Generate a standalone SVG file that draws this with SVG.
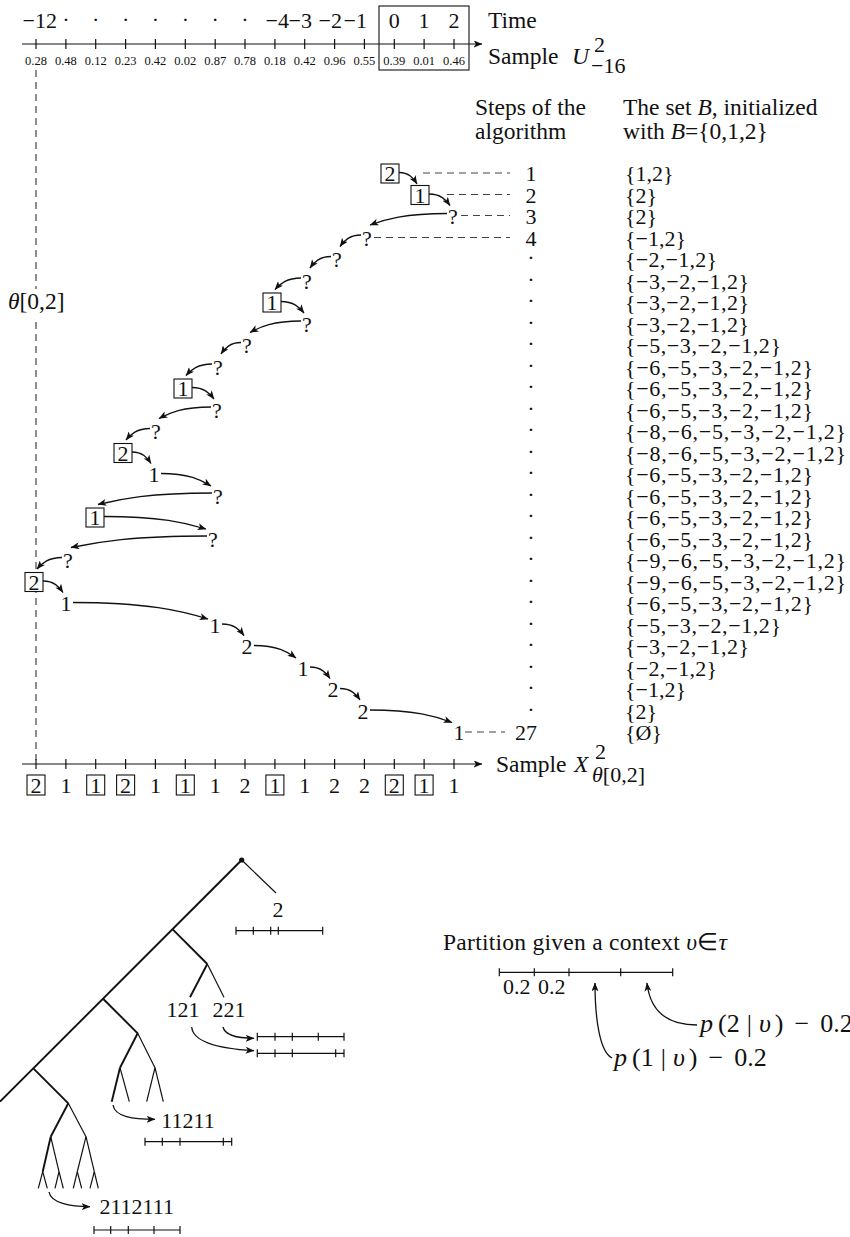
<svg xmlns="http://www.w3.org/2000/svg" width="850" height="1237" viewBox="0 0 850 1237">
<style>
.t{font-family:"Liberation Serif","Times New Roman",serif;font-size:22px;fill:#111}
.p{font-size:23.5px}
.q{font-size:26px}
.sm{font-size:12.5px}
.i{font-style:italic}
.ln{stroke:#111;stroke-width:1.2;fill:none}
.tk{stroke:#111;stroke-width:1.2}
.th{stroke:#111;stroke-width:1.9;fill:none}
.dash{stroke:#444;stroke-width:1.2;stroke-dasharray:7 5;fill:none}
.arr{stroke:#111;stroke-width:1.3;fill:none;marker-end:url(#ah)}
.box{fill:#fff;stroke:#111;stroke-width:1.1}
</style>
<defs>
<marker id="ah" viewBox="0 0 10 8" refX="9.5" refY="4" markerWidth="9" markerHeight="7" markerUnits="userSpaceOnUse" orient="auto"><path d="M0,0 L10,4 L0,8 L2.5,4z" fill="#111"/></marker>
</defs>
<rect width="850" height="1237" fill="#fff"/>

<!-- top time axis -->
<g id="time-axis">
<line class="ln" x1="22" y1="44" x2="482" y2="44" marker-end="url(#ah)"/>
<g class="tk">
<line x1="36" y1="39" x2="36" y2="49"/><line x1="65.9" y1="39" x2="65.9" y2="49"/><line x1="95.7" y1="39" x2="95.7" y2="49"/><line x1="125.6" y1="39" x2="125.6" y2="49"/><line x1="155.4" y1="39" x2="155.4" y2="49"/><line x1="185.3" y1="39" x2="185.3" y2="49"/><line x1="215.2" y1="39" x2="215.2" y2="49"/><line x1="245" y1="39" x2="245" y2="49"/><line x1="274.9" y1="39" x2="274.9" y2="49"/><line x1="304.7" y1="39" x2="304.7" y2="49"/><line x1="334.6" y1="39" x2="334.6" y2="49"/><line x1="364.4" y1="39" x2="364.4" y2="49"/><line x1="394.3" y1="39" x2="394.3" y2="49"/><line x1="424.1" y1="39" x2="424.1" y2="49"/><line x1="454" y1="39" x2="454" y2="49"/>
</g>
<g class="t" text-anchor="end">
<text x="57" y="28">−12</text><text x="289" y="28">−4</text><text x="312" y="28">−3</text><text x="342" y="28">−2</text><text x="367" y="28">−1</text>
</g>
<g class="t" text-anchor="middle">
<text x="65.9" y="27">·</text><text x="95.7" y="27">·</text><text x="125.6" y="27">·</text><text x="155.4" y="27">·</text><text x="185.3" y="27">·</text><text x="215.2" y="27">·</text><text x="245" y="27">·</text>
<text x="394.3" y="28">0</text><text x="424.1" y="28">1</text><text x="454" y="28">2</text>
</g>
<g class="t sm" text-anchor="middle">
<text x="36" y="65">0.28</text><text x="65.9" y="65">0.48</text><text x="95.7" y="65">0.12</text><text x="125.6" y="65">0.23</text><text x="155.4" y="65">0.42</text><text x="185.3" y="65">0.02</text><text x="215.2" y="65">0.87</text><text x="245" y="65">0.78</text><text x="274.9" y="65">0.18</text><text x="304.7" y="65">0.42</text><text x="334.6" y="65">0.96</text><text x="364.4" y="65">0.55</text><text x="394.3" y="65">0.39</text><text x="424.1" y="65">0.01</text><text x="454" y="65">0.46</text>
</g>
<rect x="379" y="6" width="90" height="64" fill="none" stroke="#111" stroke-width="1.1"/>
<text class="t p" x="488" y="28">Time</text>
<text class="t p" x="488" y="64">Sample <tspan class="i" x="572">U</tspan></text>
<text class="t" x="594" y="52" font-size="15">2</text>
<text class="t" x="591" y="73" font-size="15">−16</text>
</g>

<!-- dashed vertical theta line -->
<g id="theta">
<line class="dash" x1="36" y1="70" x2="36" y2="760"/>
<rect x="6" y="289" width="62" height="28" fill="#fff"/>
<text class="t p" x="8" y="309"><tspan class="i">θ</tspan>[0,2]</text>
</g>

<!-- headers -->
<g id="headers" class="t p">
<text x="475" y="115">Steps of the</text>
<text x="475" y="139">algorithm</text>
<text x="623" y="115">The set <tspan class="i">B</tspan>, initialized</text>
<text x="623" y="139">with <tspan class="i">B</tspan>={0,1,2}</text>
</g>

<!-- step numbers -->
<g id="steps" class="t" text-anchor="middle">
<text x="531" y="181">1</text><text x="531" y="202.5">2</text><text x="531" y="224">3</text><text x="531" y="245.5">4</text>
<text x="531" y="265">·</text><text x="531" y="286.5">·</text><text x="531" y="308">·</text><text x="531" y="329.5">·</text><text x="531" y="351">·</text><text x="531" y="372.5">·</text><text x="531" y="394">·</text><text x="531" y="415.5">·</text><text x="531" y="437">·</text><text x="531" y="458.5">·</text><text x="531" y="480">·</text><text x="531" y="501.5">·</text><text x="531" y="523">·</text><text x="531" y="544.5">·</text><text x="531" y="566">·</text><text x="531" y="587.5">·</text><text x="531" y="609">·</text><text x="531" y="630.5">·</text><text x="531" y="652">·</text><text x="531" y="673.5">·</text><text x="531" y="695">·</text><text x="531" y="716.5">·</text>
<text x="537" y="740" text-anchor="end">27</text>
</g>

<!-- sets -->
<g id="sets" class="t">
<text x="625" y="181">{1,2}</text>
<text x="625" y="202.5">{2}</text>
<text x="625" y="224">{2}</text>
<text x="625" y="245.5">{−1,2}</text>
<text x="625" y="267" textLength="92" lengthAdjust="spacing">{−2,−1,2}</text>
<text x="625" y="288.5" textLength="124" lengthAdjust="spacing">{−3,−2,−1,2}</text>
<text x="625" y="310" textLength="124" lengthAdjust="spacing">{−3,−2,−1,2}</text>
<text x="625" y="331.5" textLength="124" lengthAdjust="spacing">{−3,−2,−1,2}</text>
<text x="625" y="353" textLength="156" lengthAdjust="spacing">{−5,−3,−2,−1,2}</text>
<text x="625" y="374.5" textLength="188" lengthAdjust="spacing">{−6,−5,−3,−2,−1,2}</text>
<text x="625" y="396" textLength="188" lengthAdjust="spacing">{−6,−5,−3,−2,−1,2}</text>
<text x="625" y="417.5" textLength="188" lengthAdjust="spacing">{−6,−5,−3,−2,−1,2}</text>
<text x="625" y="439" textLength="221" lengthAdjust="spacing">{−8,−6,−5,−3,−2,−1,2}</text>
<text x="625" y="460.5" textLength="221" lengthAdjust="spacing">{−8,−6,−5,−3,−2,−1,2}</text>
<text x="625" y="482" textLength="188" lengthAdjust="spacing">{−6,−5,−3,−2,−1,2}</text>
<text x="625" y="503.5" textLength="188" lengthAdjust="spacing">{−6,−5,−3,−2,−1,2}</text>
<text x="625" y="525" textLength="188" lengthAdjust="spacing">{−6,−5,−3,−2,−1,2}</text>
<text x="625" y="546.5" textLength="188" lengthAdjust="spacing">{−6,−5,−3,−2,−1,2}</text>
<text x="625" y="568" textLength="221" lengthAdjust="spacing">{−9,−6,−5,−3,−2,−1,2}</text>
<text x="625" y="589.5" textLength="221" lengthAdjust="spacing">{−9,−6,−5,−3,−2,−1,2}</text>
<text x="625" y="611" textLength="188" lengthAdjust="spacing">{−6,−5,−3,−2,−1,2}</text>
<text x="625" y="632.5" textLength="156" lengthAdjust="spacing">{−5,−3,−2,−1,2}</text>
<text x="625" y="654" textLength="124" lengthAdjust="spacing">{−3,−2,−1,2}</text>
<text x="625" y="675.5" textLength="92" lengthAdjust="spacing">{−2,−1,2}</text>
<text x="625" y="697">{−1,2}</text>
<text x="625" y="718.5">{2}</text>
<text x="625" y="740">{Ø}</text>
</g>

<!-- connectors -->
<g id="connectors">
<line class="dash" x1="423" y1="173" x2="510" y2="173"/>
<line class="dash" x1="447" y1="194.5" x2="510" y2="194.5"/>
<line class="dash" x1="461" y1="215.5" x2="510" y2="215.5"/>
<line class="dash" x1="374" y1="237.5" x2="510" y2="237.5"/>
<line class="dash" x1="465" y1="732" x2="505" y2="732"/>
<path class="arr" d="M399,172.5 C408.9,172.5 413.4,178.25 417,184"/>
<path class="arr" d="M429,194 C440.6,194 445.8,199.75 450,205.5"/>
<path class="arr" d="M447,213.5 C404.65,213.5 385.4,219.25 370,225"/>
<path class="arr" d="M361,235 C349.45,235 344.2,240.75 340,246.5"/>
<path class="arr" d="M331,256.5 C319.45,256.5 314.2,262.25 310,268"/>
<path class="arr" d="M301,278 C286.7,278 280.2,283.75 275,289.5"/>
<path class="arr" d="M281,301.5 C293.65,301.5 299.4,307.25 304,313"/>
<path class="arr" d="M301,321 C272.95,321 260.2,326.75 250,332.5"/>
<path class="arr" d="M241,342.5 C230,342.5 225,348.25 221,354"/>
<path class="arr" d="M212,364 C197.7,364 191.2,369.75 186,375.5"/>
<path class="arr" d="M192,387.5 C204.1,387.5 209.6,393.25 214,399"/>
<path class="arr" d="M211,407 C182.4,407 169.4,412.75 159,418.5"/>
<path class="arr" d="M150,428.5 C136.8,428.5 130.8,434.25 126,440"/>
<path class="arr" d="M132,452 C142.45,452 147.2,457.75 151,463.5"/>
<path class="arr" d="M161,473.5 C188.5,473.5 201,479.75 211,486"/>
<path class="arr" d="M212,493 C149.3,493 120.8,498.75 98,504.5"/>
<path class="arr" d="M104,516.5 C160.1,516.5 185.6,522.75 206,529"/>
<path class="arr" d="M207,536 C132.2,536 98.2,541.75 71,547.5"/>
<path class="arr" d="M62,557.5 C48.25,557.5 42,563.25 37,569"/>
<path class="arr" d="M43,581 C54,581 59,586.75 63,592.5"/>
<path class="arr" d="M73,602.5 C147.25,602.5 181,610.75 208,619"/>
<path class="arr" d="M222,624 C234.1,624 239.6,629.75 244,635.5"/>
<path class="arr" d="M254,645.5 C277.1,645.5 287.6,651.75 296,658"/>
<path class="arr" d="M310,667 C321,667 326,672.75 330,678.5"/>
<path class="arr" d="M340,688.5 C351,688.5 356,694.25 360,700"/>
<path class="arr" d="M370,710 C415.1,710 435.6,716.25 452,722.5"/>
</g>

<!-- algorithm nodes -->
<g class="t" text-anchor="middle">
<g id="n1"><rect class="box" x="381" y="164" width="18" height="19"/><text x="390" y="181">2</text></g>
<g id="n2"><rect class="box" x="411" y="185.5" width="18" height="19"/><text x="420" y="202.5">1</text></g>
<g id="n3"><text x="453" y="224">?</text></g>
<g id="n4"><text x="367" y="245.5">?</text></g>
<g id="n5"><text x="337" y="267">?</text></g>
<g id="n6"><text x="307" y="288.5">?</text></g>
<g id="n7"><rect class="box" x="263" y="293" width="18" height="19"/><text x="272" y="310">1</text></g>
<g id="n8"><text x="307" y="331.5">?</text></g>
<g id="n9"><text x="247" y="353">?</text></g>
<g id="n10"><text x="218" y="374.5">?</text></g>
<g id="n11"><rect class="box" x="174" y="379" width="18" height="19"/><text x="183" y="396">1</text></g>
<g id="n12"><text x="217" y="417.5">?</text></g>
<g id="n13"><text x="156" y="439">?</text></g>
<g id="n14"><rect class="box" x="114" y="443.5" width="18" height="19"/><text x="123" y="460.5">2</text></g>
<g id="n15"><text x="154" y="482">1</text></g>
<g id="n16"><text x="218" y="503.5">?</text></g>
<g id="n17"><rect class="box" x="86" y="508" width="18" height="19"/><text x="95" y="525">1</text></g>
<g id="n18"><text x="213" y="546.5">?</text></g>
<g id="n19"><text x="68" y="568">?</text></g>
<g id="n20"><rect class="box" x="25" y="572.5" width="18" height="19"/><text x="34" y="589.5">2</text></g>
<g id="n21"><text x="66" y="611">1</text></g>
<g id="n22"><text x="215" y="632.5">1</text></g>
<g id="n23"><text x="247" y="654">2</text></g>
<g id="n24"><text x="303" y="675.5">1</text></g>
<g id="n25"><text x="333" y="697">2</text></g>
<g id="n26"><text x="363" y="718.5">2</text></g>
<g id="n27"><text x="459" y="740">1</text></g>
</g>

<!-- bottom sample axis -->
<g id="sample-axis">
<line class="ln" x1="22" y1="764" x2="482" y2="764" marker-end="url(#ah)"/>
<g class="tk">
<line x1="36" y1="759" x2="36" y2="769"/><line x1="65.9" y1="759" x2="65.9" y2="769"/><line x1="95.7" y1="759" x2="95.7" y2="769"/><line x1="125.6" y1="759" x2="125.6" y2="769"/><line x1="155.4" y1="759" x2="155.4" y2="769"/><line x1="185.3" y1="759" x2="185.3" y2="769"/><line x1="215.2" y1="759" x2="215.2" y2="769"/><line x1="245" y1="759" x2="245" y2="769"/><line x1="274.9" y1="759" x2="274.9" y2="769"/><line x1="304.7" y1="759" x2="304.7" y2="769"/><line x1="334.6" y1="759" x2="334.6" y2="769"/><line x1="364.4" y1="759" x2="364.4" y2="769"/><line x1="394.3" y1="759" x2="394.3" y2="769"/><line x1="424.1" y1="759" x2="424.1" y2="769"/><line x1="454" y1="759" x2="454" y2="769"/>
</g>
<g>
<rect class="box" x="27" y="775" width="18" height="20"/><rect class="box" x="86.7" y="775" width="18" height="20"/><rect class="box" x="116.6" y="775" width="18" height="20"/><rect class="box" x="176.3" y="775" width="18" height="20"/><rect class="box" x="265.9" y="775" width="18" height="20"/><rect class="box" x="385.3" y="775" width="18" height="20"/><rect class="box" x="415.1" y="775" width="18" height="20"/>
</g>
<g class="t" text-anchor="middle">
<text x="36" y="793">2</text><text x="65.9" y="793">1</text><text x="95.7" y="793">1</text><text x="125.6" y="793">2</text><text x="155.4" y="793">1</text><text x="185.3" y="793">1</text><text x="215.2" y="793">1</text><text x="245" y="793">2</text><text x="274.9" y="793">1</text><text x="304.7" y="793">1</text><text x="334.6" y="793">2</text><text x="364.4" y="793">2</text><text x="394.3" y="793">2</text><text x="424.1" y="793">1</text><text x="454" y="793">1</text>
</g>
<text class="t p" x="496" y="772">Sample <tspan class="i" x="574">X</tspan></text>
<text class="t" x="595" y="759" font-size="15">2</text>
<text class="t" x="592" y="782" font-size="15"><tspan class="i">θ</tspan>[0,2]</text>
</g>

<!-- context tree -->
<g id="tree">
<line class="th" x1="241.7" y1="860" x2="0" y2="1101.7"/>
<circle cx="241.7" cy="860" r="2.6" fill="#111"/>
<line class="ln" x1="241.7" y1="860" x2="276" y2="893"/>
<line class="th" x1="172.7" y1="929.3" x2="207.3" y2="964"/>
<line class="th" x1="207.3" y1="964" x2="190" y2="997.3"/>
<line class="ln" x1="207.3" y1="964" x2="224" y2="997.3"/>
<line class="th" x1="103.3" y1="999" x2="137.7" y2="1033.3"/>
<line class="th" x1="137.7" y1="1033.3" x2="120" y2="1067.7"/>
<line class="ln" x1="137.7" y1="1033.3" x2="155" y2="1067.7"/>
<line class="th" x1="120" y1="1067.7" x2="111.7" y2="1101.7"/>
<line class="ln" x1="120" y1="1067.7" x2="129.3" y2="1101.7"/>
<line class="ln" x1="155" y1="1067.7" x2="146.7" y2="1101.7"/>
<line class="ln" x1="155" y1="1067.7" x2="163.3" y2="1101.7"/>
<line class="th" x1="33.3" y1="1068.3" x2="68.3" y2="1103.3"/>
<line class="th" x1="68.3" y1="1103.3" x2="50.7" y2="1136.7"/>
<line class="ln" x1="68.3" y1="1103.3" x2="86" y2="1136.7"/>
<line class="th" x1="50.7" y1="1136.7" x2="42.7" y2="1171.7"/>
<line class="ln" x1="50.7" y1="1136.7" x2="59" y2="1171.7"/>
<line class="ln" x1="42.7" y1="1171.7" x2="38.3" y2="1188.3"/>
<line class="ln" x1="42.7" y1="1171.7" x2="47.3" y2="1188.3"/>
<line class="ln" x1="59" y1="1171.7" x2="55" y2="1188.3"/>
<line class="ln" x1="59" y1="1171.7" x2="63.3" y2="1188.3"/>
<line class="ln" x1="86" y1="1136.7" x2="77.3" y2="1171.7"/>
<line class="ln" x1="86" y1="1136.7" x2="94.3" y2="1171.7"/>
<line class="ln" x1="77.3" y1="1171.7" x2="73.3" y2="1188.3"/>
<line class="ln" x1="77.3" y1="1171.7" x2="81.7" y2="1188.3"/>
<line class="ln" x1="94.3" y1="1171.7" x2="90" y2="1188.3"/>
<line class="ln" x1="94.3" y1="1171.7" x2="98.3" y2="1188.3"/>
</g>
<g id="tree-labels" class="t" text-anchor="middle">
<text x="278" y="917">2</text>
<text x="183" y="1017">121</text>
<text x="229" y="1017">221</text>
<text x="188" y="1128">11211</text>
<text x="136.7" y="1214">2112111</text>
</g>
<g id="tree-arrows">
<path class="arr" d="M223,1027 C225,1036 238,1038.3 254,1038.3"/>
<path class="arr" d="M191.7,1027 C193,1044 225,1049 254,1050.7"/>
<path class="arr" d="M113,1105 C115,1117 133,1119.3 155,1119.3"/>
<path class="arr" d="M49,1192 C51,1203 70,1206.7 90,1206.7"/>
</g>
<g id="intervals" class="tk">
<line x1="236" y1="930.7" x2="322.7" y2="930.7"/>
<line x1="236" y1="926.7" x2="236" y2="934.7"/><line x1="253.3" y1="926.7" x2="253.3" y2="934.7"/><line x1="270.7" y1="926.7" x2="270.7" y2="934.7"/><line x1="278.3" y1="926.7" x2="278.3" y2="934.7"/><line x1="322.7" y1="926.7" x2="322.7" y2="934.7"/>
<line x1="257.3" y1="1036.7" x2="344" y2="1036.7"/>
<line x1="257.3" y1="1032.7" x2="257.3" y2="1040.7"/><line x1="275" y1="1032.7" x2="275" y2="1040.7"/><line x1="292.3" y1="1032.7" x2="292.3" y2="1040.7"/><line x1="318.3" y1="1032.7" x2="318.3" y2="1040.7"/><line x1="344" y1="1032.7" x2="344" y2="1040.7"/>
<line x1="257.3" y1="1053.3" x2="344" y2="1053.3"/>
<line x1="257.3" y1="1049.3" x2="257.3" y2="1057.3"/><line x1="275" y1="1049.3" x2="275" y2="1057.3"/><line x1="292.3" y1="1049.3" x2="292.3" y2="1057.3"/><line x1="335.7" y1="1049.3" x2="335.7" y2="1057.3"/><line x1="344" y1="1049.3" x2="344" y2="1057.3"/>
<line x1="145" y1="1141.7" x2="231.7" y2="1141.7"/>
<line x1="145" y1="1137.7" x2="145" y2="1145.7"/><line x1="162.3" y1="1137.7" x2="162.3" y2="1145.7"/><line x1="180" y1="1137.7" x2="180" y2="1145.7"/><line x1="223.3" y1="1137.7" x2="223.3" y2="1145.7"/><line x1="231.7" y1="1137.7" x2="231.7" y2="1145.7"/>
<line x1="94" y1="1230" x2="180" y2="1230"/>
<line x1="94" y1="1226" x2="94" y2="1234"/><line x1="110.7" y1="1226" x2="110.7" y2="1234"/><line x1="128.3" y1="1226" x2="128.3" y2="1234"/><line x1="154" y1="1226" x2="154" y2="1234"/><line x1="180" y1="1226" x2="180" y2="1234"/>
</g>

<!-- partition -->
<g id="partition">
<text class="t p" x="443" y="950" textLength="284" lengthAdjust="spacing">Partition given a context <tspan class="i">υ</tspan>∈<tspan class="i">τ</tspan></text>
<g class="tk">
<line x1="499.3" y1="972.3" x2="672.7" y2="972.3"/>
<line x1="499.3" y1="968.3" x2="499.3" y2="976.3"/><line x1="534.3" y1="968.3" x2="534.3" y2="976.3"/><line x1="569" y1="968.3" x2="569" y2="976.3"/><line x1="620.7" y1="968.3" x2="620.7" y2="976.3"/><line x1="672.7" y1="968.3" x2="672.7" y2="976.3"/>
</g>
<text class="t" x="516.7" y="994" text-anchor="middle">0.2</text>
<text class="t" x="551.7" y="994" text-anchor="middle">0.2</text>
<path class="arr" d="M612,1058 C600,1052 595,1020 595,983"/>
<path class="arr" d="M697,1025 C665,1025 650,1010 647,983"/>
<text class="t q" x="614" y="1066"><tspan class="i">p</tspan><tspan dx="5">(1</tspan><tspan dx="7">|</tspan><tspan class="i" dx="7">υ</tspan><tspan dx="4">)</tspan><tspan dx="11">−</tspan><tspan dx="11">0.2</tspan></text>
<text class="t q" x="700" y="1032"><tspan class="i">p</tspan><tspan dx="5">(2</tspan><tspan dx="7">|</tspan><tspan class="i" dx="7">υ</tspan><tspan dx="4">)</tspan><tspan dx="11">−</tspan><tspan dx="11">0.2</tspan></text>
</g>
</svg>
